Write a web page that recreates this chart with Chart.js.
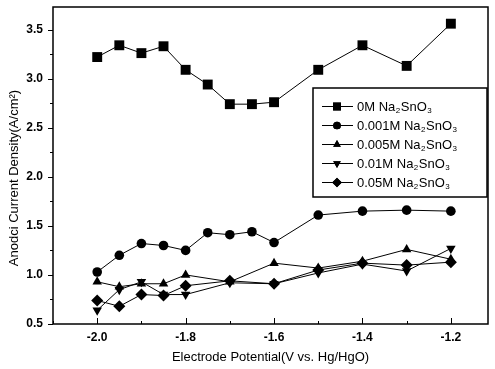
<!DOCTYPE html>
<html>
<head>
<meta charset="utf-8">
<script src="https://cdn.jsdelivr.net/npm/chart.js@4/dist/chart.umd.min.js"></script>
<style>
  html, body { margin: 0; padding: 0; background: #fff; }
  canvas { display: block; }
</style>
</head>
<body>
<canvas id="chart" width="495" height="369"></canvas>
<script>
// Electrode potentials (V vs. Hg/HgO)
const potentialsFull  = [-2.0, -1.95, -1.9, -1.85, -1.8, -1.75, -1.7, -1.65, -1.6, -1.5, -1.4, -1.3, -1.2];
const potentialsShort = [-2.0, -1.95, -1.9, -1.85, -1.8, -1.7, -1.6, -1.5, -1.4, -1.3, -1.2];

// Anodic current density (A/cm²) for each Na2SnO3 concentration
const current0M    = [3.22, 3.34, 3.26, 3.33, 3.09, 2.94, 2.74, 2.74, 2.76, 3.09, 3.34, 3.13, 3.56];
const current0001M = [1.03, 1.20, 1.32, 1.30, 1.25, 1.43, 1.41, 1.44, 1.33, 1.61, 1.65, 1.66, 1.65];
const current0005M = [0.93, 0.88, 0.91, 0.91, 1.00, 0.93, 1.12, 1.07, 1.14, 1.26, 1.16];
const current001M  = [0.64, 0.85, 0.93, 0.80, 0.80, 0.92, 0.91, 1.02, 1.11, 1.04, 1.27];
const current005M  = [0.74, 0.68, 0.80, 0.79, 0.89, 0.94, 0.91, 1.05, 1.12, 1.10, 1.13];

const seriesLabels = ['0M Na₂SnO₃', '0.001M Na₂SnO₃', '0.005M Na₂SnO₃', '0.01M Na₂SnO₃', '0.05M Na₂SnO₃'];

const xTickValues = [-2.0, -1.8, -1.6, -1.4, -1.2];
const yTickValues = [0.5, 1.0, 1.5, 2.0, 2.5, 3.0, 3.5];

const xTitle = 'Electrode Potential(V vs. Hg/HgO)';
const yTitle = 'Anodci Current Density(A/cm²)';

const FONT = "'Liberation Sans', Arial, Helvetica, sans-serif";

function toPoints(xs, ys) {
  return xs.map((x, i) => ({ x: x, y: ys[i] }));
}

// Marker shapes: square, circle, up triangle, down triangle, diamond
const markers = [
  { pointStyle: 'rect',     radius: 7,   rotation: 0 },
  { pointStyle: 'circle',   radius: 4.8, rotation: 0 },
  { pointStyle: 'triangle', radius: 5.5, rotation: 0 },
  { pointStyle: 'triangle', radius: 5.5, rotation: 180 },
  { pointStyle: 'rectRot',  radius: 6,   rotation: 0 }
];

const seriesData = [
  toPoints(potentialsFull, current0M),
  toPoints(potentialsFull, current0001M),
  toPoints(potentialsShort, current0005M),
  toPoints(potentialsShort, current001M),
  toPoints(potentialsShort, current005M)
];

const datasets = seriesData.map((pts, i) => ({
  label: seriesLabels[i],
  data: pts,
  borderColor: '#000',
  backgroundColor: '#000',
  borderWidth: 1,
  pointStyle: markers[i].pointStyle,
  pointRadius: markers[i].radius,
  pointRotation: markers[i].rotation,
  pointBackgroundColor: '#000',
  pointBorderColor: '#000',
  pointBorderWidth: 0,
  tension: 0,
  fill: false
}));

// Box frame plus tick marks: x ticks point into the plot, y ticks point outward
const frameAndTicks = {
  id: 'frameAndTicks',
  afterDatasetsDraw(chart) {
    const { ctx, chartArea: a, scales } = chart;
    const xs = scales.x, ys = scales.y;
    ctx.save();
    ctx.strokeStyle = '#000';
    ctx.lineWidth = 1.5;
    ctx.strokeRect(a.left, a.top, a.right - a.left, a.bottom - a.top);
    ctx.lineWidth = 1;
    ctx.beginPath();
    for (let k = -21; k <= -12; k++) {
      const px = Math.round(xs.getPixelForValue(k / 10)) + 0.5;
      const len = (k % 2 === 0) ? 6 : 3;
      ctx.moveTo(px, a.bottom);
      ctx.lineTo(px, a.bottom - len);
    }
    for (let k = 2; k <= 14; k++) {
      const py = Math.round(ys.getPixelForValue(k / 4)) + 0.5;
      const len = (k % 2 === 0) ? 5 : 3;
      ctx.moveTo(a.left, py);
      ctx.lineTo(a.left - len, py);
    }
    ctx.stroke();

    // Vertical axis title, centred a little below the middle of the plot
    ctx.save();
    ctx.translate(14, 178);
    ctx.rotate(-Math.PI / 2);
    ctx.fillStyle = '#000';
    ctx.font = `13px ${FONT}`;
    ctx.textAlign = 'center';
    ctx.textBaseline = 'middle';
    ctx.fillText(yTitle, 0, 0);
    ctx.restore();
    ctx.restore();
  }
};

// Draw text where ₂ / ₃ are rendered as lowered small digits
function drawChemText(ctx, text, x, y) {
  const subs = { '₂': '2', '₃': '3' };
  let cx = x;
  let run = '';
  const flush = () => {
    if (!run) return;
    ctx.font = `13px ${FONT}`;
    ctx.fillText(run, cx, y);
    cx += ctx.measureText(run).width;
    run = '';
  };
  for (const ch of text) {
    if (subs[ch]) {
      flush();
      ctx.font = `8px ${FONT}`;
      ctx.fillText(subs[ch], cx + 0.5, y + 4);
      cx += ctx.measureText(subs[ch]).width + 1;
    } else {
      run += ch;
    }
  }
  flush();
}

// Framed legend with line–marker–line samples
const boxLegend = {
  id: 'boxLegend',
  afterDraw(chart) {
    const { ctx } = chart;
    const bx = 313, by = 88, bw = 174, bh = 109;
    ctx.save();
    ctx.fillStyle = '#fff';
    ctx.fillRect(bx, by, bw, bh);
    ctx.strokeStyle = '#000';
    ctx.lineWidth = 1.5;
    ctx.strokeRect(bx, by, bw, bh);
    chart.data.datasets.forEach((ds, i) => {
      const y = by + 18 + i * 19;
      ctx.strokeStyle = '#000';
      ctx.lineWidth = 1;
      ctx.beginPath();
      ctx.moveTo(322, y + 0.5);
      ctx.lineTo(353, y + 0.5);
      ctx.stroke();
      ctx.fillStyle = '#000';
      Chart.helpers.drawPoint(ctx, {
        pointStyle: ds.pointStyle,
        rotation: ds.pointRotation,
        radius: ds.pointRadius * 0.8,
        borderWidth: 0
      }, 337, y + 0.5);
      ctx.fill();
      ctx.fillStyle = '#000';
      ctx.textBaseline = 'middle';
      ctx.textAlign = 'left';
      drawChemText(ctx, ds.label, 357, y + 1);
    });
    ctx.restore();
  }
};

new Chart(document.getElementById('chart'), {
  type: 'line',
  data: { datasets: datasets },
  plugins: [frameAndTicks, boxLegend],
  options: {
    responsive: false,
    animation: false,
    devicePixelRatio: 1,
    layout: { padding: { top: 1, right: 0, left: 0, bottom: 0 } },
    plugins: { legend: { display: false }, tooltip: { enabled: false } },
    scales: {
      x: {
        type: 'linear',
        min: -2.1,
        max: -1.116,
        afterFit(scale) { scale.height = 45; scale.paddingLeft = 0; scale.paddingRight = 0; },
        afterBuildTicks(scale) { scale.ticks = xTickValues.map(v => ({ value: v })); },
        grid: { display: false, drawTicks: false },
        border: { display: false },
        ticks: {
          padding: 6,
          color: '#000',
          font: { family: FONT, size: 12, weight: 'bold' },
          callback: v => v.toFixed(1),
          maxRotation: 0
        },
        title: {
          display: true,
          text: xTitle,
          color: '#000',
          font: { family: FONT, size: 13 },
          padding: { top: 0, bottom: 4 }
        }
      },
      y: {
        type: 'linear',
        min: 0.5,
        max: 3.73,
        afterFit(scale) { scale.width = 53; scale.paddingTop = 0; scale.paddingBottom = 0; },
        afterBuildTicks(scale) { scale.ticks = yTickValues.map(v => ({ value: v })); },
        grid: { display: false, drawTicks: false },
        border: { display: false },
        ticks: {
          padding: 10,
          color: '#000',
          font: { family: FONT, size: 12, weight: 'bold' },
          callback: v => v.toFixed(1)
        },
        title: { display: false }
      }
    }
  }
});
</script>
</body>
</html>
